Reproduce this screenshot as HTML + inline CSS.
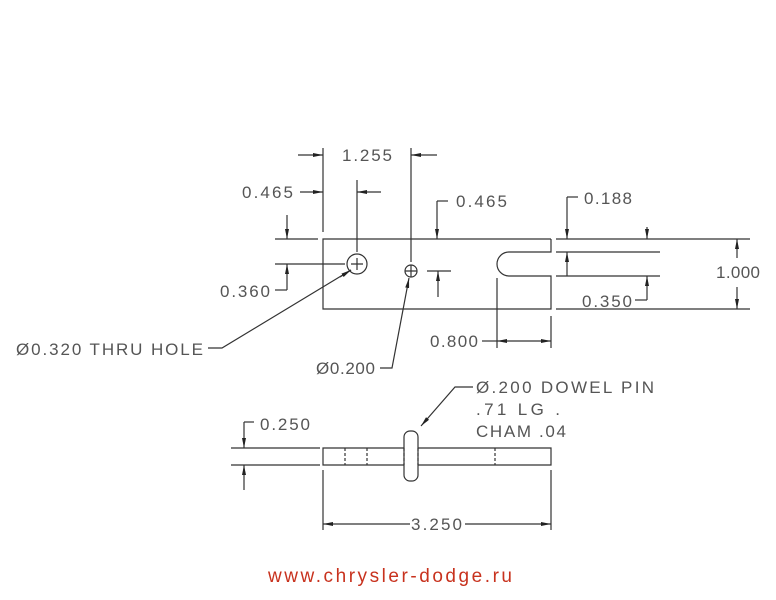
<!DOCTYPE html>
<html><head><style>html,body{margin:0;background:#fff}svg{display:block}text{font-family:"Liberation Sans",sans-serif;font-size:17px;fill:#555}</style></head><body>
<svg width="776" height="600" viewBox="0 0 776 600">
<defs><marker id="a" viewBox="0 0 10 4" refX="10" refY="2" markerWidth="10" markerHeight="4" markerUnits="userSpaceOnUse" orient="auto"><path d="M0,0L10,2L0,4z" fill="#222"/></marker></defs>
<g stroke="#333" stroke-width="1.2" fill="none">
<path d="M551,239H323V309H551V276H509A12,12 0 0 1 509,252H551V239"/>
<circle cx="357" cy="264" r="10"/><path d="M351,264h12M357,258v12"/>
<circle cx="411" cy="271" r="6"/><path d="M405,271h12M411,265v12"/>
<path d="M323,148V232M411,148V262M357,180V252M275,239H318M275,264H345M427,271H451M497,278V348M551,316V348"/>
<path d="M556,239H750M556,252H660M556,276H660M556,309H750"/>
<path d="M298,155H323" marker-end="url(#a)"/><path d="M437,155H411" marker-end="url(#a)"/>
<path d="M300,192H323" marker-end="url(#a)"/><path d="M381,192H357" marker-end="url(#a)"/>
<path d="M287,215V239" marker-end="url(#a)"/><path d="M287,290V264" marker-end="url(#a)"/><path d="M287,290H275"/>
<path d="M437,201H448"/><path d="M437,201V239" marker-end="url(#a)"/>
<path d="M438,297V271" marker-end="url(#a)"/>
<path d="M567,197H578"/><path d="M567,197V239" marker-end="url(#a)"/><path d="M567,276V252" marker-end="url(#a)"/>
<path d="M647,227V239" marker-end="url(#a)"/><path d="M647,300V276" marker-end="url(#a)"/><path d="M647,300H635"/>
<path d="M737,258V239" marker-end="url(#a)"/><path d="M737,287V309" marker-end="url(#a)"/>
<path d="M482,341H497"/><path d="M524,341H497" marker-end="url(#a)"/><path d="M524,341H551" marker-end="url(#a)"/>
<path d="M208,348H222L351,270"/><path d="M340,277L351,270" marker-end="url(#a)"/>
<path d="M380,368H392L409,278" marker-end="url(#a)"/>
<path d="M323,448H551V465H323Z"/>
<path d="M345,448V465M367,448V465M495,448V465" stroke-dasharray="3,2"/>
<rect x="404" y="431" width="14" height="50" rx="6" fill="#fff"/>
<path d="M404,448V465M418,448V465" stroke-dasharray="3,2"/>
<path d="M231,448H320M231,465H320M323,470V530M551,470V530"/>
<path d="M244,422H254"/><path d="M244,422V448" marker-end="url(#a)"/><path d="M244,490V465" marker-end="url(#a)"/>
<path d="M473,387H455L421,426" marker-end="url(#a)"/>
<path d="M410,524H323" marker-end="url(#a)"/><path d="M465,524H551" marker-end="url(#a)"/>
</g>
<text x="342" y="161" textLength="50">1.255</text>
<text x="242" y="198" textLength="51">0.465</text>
<text x="456" y="207" textLength="51">0.465</text>
<text x="584" y="204" textLength="48">0.188</text>
<text x="220" y="297" textLength="50">0.360</text>
<text x="582" y="307" textLength="50">0.350</text>
<text x="716" y="278" textLength="44">1.000</text>
<text x="430" y="347" textLength="48">0.800</text>
<text x="16" y="355" textLength="187">Ø0.320 THRU HOLE</text>
<text x="316" y="374" textLength="59">Ø0.200</text>
<text x="476" y="393" textLength="178">Ø.200 DOWEL PIN</text>
<text x="476" y="415" textLength="84">.71 LG .</text>
<text x="476" y="437" textLength="90">CHAM .04</text>
<text x="260" y="430" textLength="50">0.250</text>
<text x="411" y="530" textLength="51">3.250</text>
<text x="268" y="582" textLength="244" style="fill:#c8321e;font-size:19px">www.chrysler-dodge.ru</text>
</svg>
</body></html>
